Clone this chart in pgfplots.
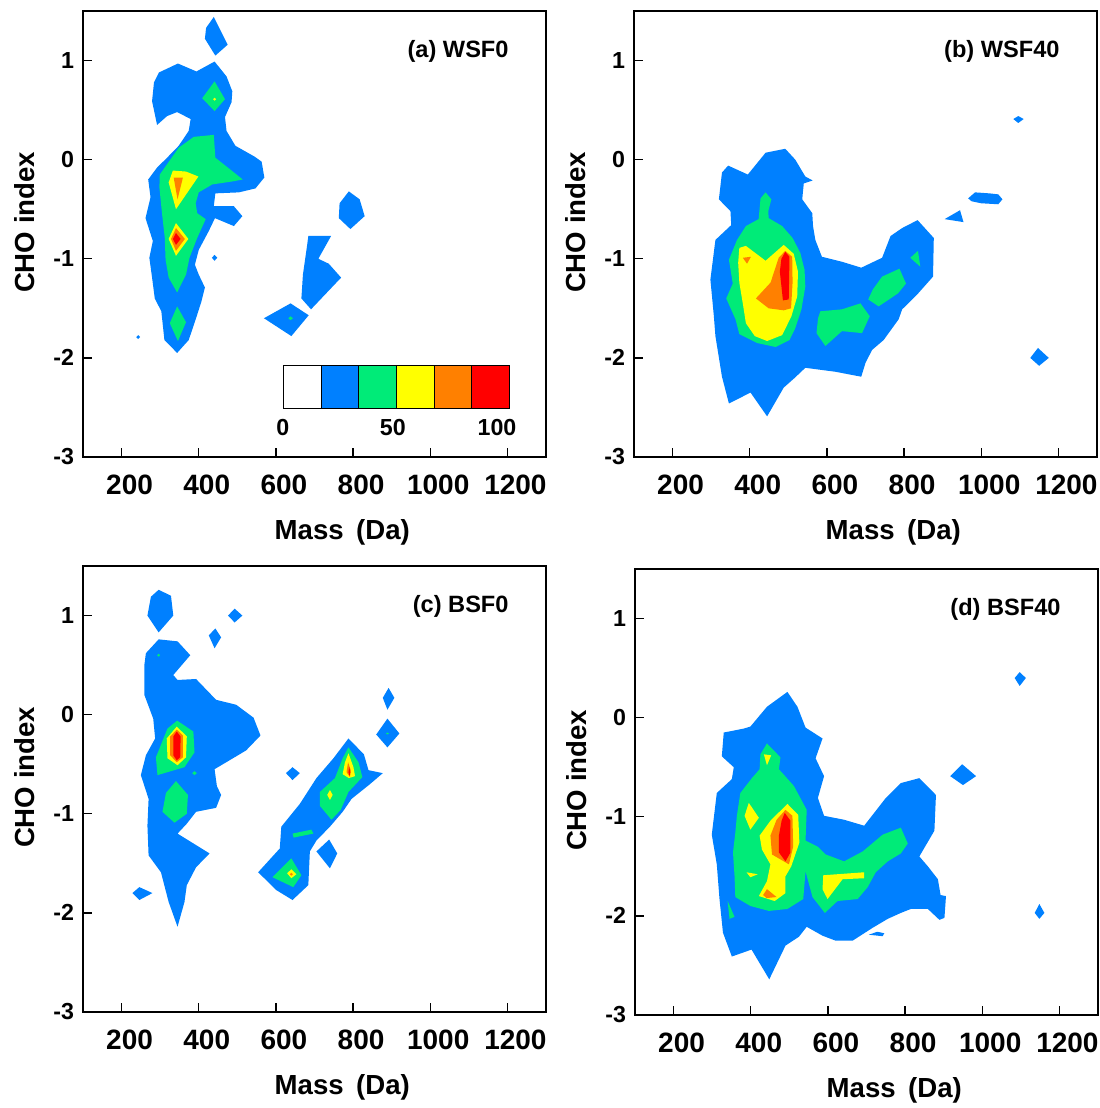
\documentclass[border=0pt]{standalone}
\usepackage{fontspec}
\setmainfont{Liberation Sans}
\usepackage{pgfplots}
\pgfplotsset{compat=1.18}
\definecolor{cBlue}{RGB}{0,128,255}
\definecolor{cGreen}{RGB}{0,235,120}
\definecolor{cYellow}{RGB}{255,255,0}
\definecolor{cOrange}{RGB}{255,128,0}
\definecolor{cRed}{RGB}{255,0,0}

\pgfplotsset{
  cho/.style={
    scale only axis, width=231.5pt, height=223pt,
    xmin=100, xmax=1300, ymin=-3, ymax=1.5,
    xtick={200,400,600,800,1000,1200},
    xticklabels={200,400,600,800,1000,1200},
    ytick={-3,-2,-1,0,1},
    yticklabels={-3,-2,-1,0,1},
    tick align=inside, xtick pos=bottom, ytick pos=left,
    major tick length=4.5pt,
    axis line style={line width=0.7pt},
    every tick/.style={black, line width=0.7pt},
    x tick label style={font=\fontsize{14}{16}\selectfont\bfseries, yshift=-5.5pt, xshift=4pt},
    y tick label style={font=\fontsize{11.6}{13}\selectfont\bfseries, xshift=-1pt},
    xlabel={Mass\hspace{0.45em}(Da)}, ylabel={CHO index},
    label style={font=\fontsize{13.8}{16}\selectfont\bfseries},
    xlabel style={at={(axis description cs:0.56,-0.168)}, anchor=center},
    ylabel style={at={(axis description cs:-0.126,0.526)}, anchor=center},
  },
  blu/.style={fill=cBlue, draw=none, forget plot},
  grn/.style={fill=cGreen, draw=none, forget plot},
  yel/.style={fill=cYellow, draw=none, forget plot},
  ora/.style={fill=cOrange, draw=none, forget plot},
  rd/.style={fill=cRed, draw=none, forget plot},
}
\newcommand{\paneltitle}[1]{\node[anchor=east, inner sep=0pt, font=\fontsize{11.8}{14}\selectfont\bfseries] at (rel axis cs:0.92,0.909) {#1};}

\begin{document}
\begin{tikzpicture}
\useasboundingbox (0,0) rectangle (549.5pt,-554pt);

% (a) WSF0
\begin{axis}[cho, at={(41.5pt,-5.5pt)}, anchor=north west]
\addplot[blu] coordinates {(439,1.44) (475,1.16) (443,1.05) (416,1.22) (419,1.33)} -- cycle;
\addplot[blu] coordinates {(297,0.88) (346,0.97) (394,0.89) (441,0.99) (472,0.84) (487,0.69) (485,0.58) (468,0.43) (472,0.29) (495,0.14) (545,0.03) (563,-0.02) (570,-0.18) (547,-0.29) (504,-0.33) (443,-0.34) (439,-0.47) (491,-0.47) (513,-0.57) (491,-0.67) (442,-0.59) (426,-0.72) (400,-0.91) (390,-1.06) (400,-1.16) (416,-1.29) (407,-1.43) (393,-1.60) (374,-1.82) (344,-1.95) (311,-1.82) (303,-1.53) (286,-1.40) (279,-1.19) (272,-0.99) (281,-0.82) (262,-0.59) (275,-0.38) (269,-0.20) (292,-0.08) (318,0.02) (348,0.14) (374,0.29) (379,0.41) (344,0.48) (318,0.44) (292,0.35) (279,0.59) (284,0.78)} -- cycle;
\addplot[blu] coordinates {(434,-0.99) (441,-0.96) (448,-0.99) (441,-1.02)} -- cycle;
\addplot[blu] coordinates {(238,-1.79) (243,-1.77) (248,-1.79) (243,-1.81)} -- cycle;
\addplot[blu] coordinates {(789,-0.32) (817,-0.40) (830,-0.57) (793,-0.70) (763,-0.59) (765,-0.44)} -- cycle;
\addplot[blu] coordinates {(684,-0.77) (743,-0.77) (710,-1.00) (737,-1.05) (769,-1.19) (691,-1.51) (666,-1.40) (670,-1.16) (681,-0.86)} -- cycle;
\addplot[blu] coordinates {(569,-1.60) (638,-1.45) (685,-1.57) (640,-1.78)} -- cycle;
\addplot[grn] coordinates {(441,0.79) (468,0.61) (441,0.49) (409,0.62)} -- cycle;
\addplot[grn] coordinates {(387,0.23) (439,0.25) (443,0.02) (482,-0.10) (514,-0.20) (487,-0.22) (435,-0.25) (400,-0.33) (392,-0.44) (396,-0.54) (418,-0.60) (396,-0.79) (376,-0.99) (367,-1.16) (344,-1.34) (322,-1.19) (314,-1.01) (312,-0.79) (305,-0.55) (298,-0.28) (299,-0.15) (348,0.12)} -- cycle;
\addplot[grn] coordinates {(344,-1.48) (367,-1.64) (346,-1.83) (325,-1.65)} -- cycle;
\addplot[grn] coordinates {(632,-1.60) (638,-1.58) (644,-1.60) (638,-1.62)} -- cycle;
\addplot[yel] coordinates {(333,-0.11) (367,-0.12) (399,-0.17) (341,-0.50) (322,-0.23)} -- cycle;
\addplot[yel] coordinates {(341,-0.64) (373,-0.80) (341,-0.97) (322,-0.80)} -- cycle;
\addplot[yel] coordinates {(437,0.61) (441,0.625) (445,0.61) (441,0.595)} -- cycle;
\addplot[ora] coordinates {(335,-0.18) (359,-0.18) (345,-0.40)} -- cycle;
\addplot[ora] coordinates {(341,-0.69) (364,-0.80) (341,-0.92) (328,-0.80)} -- cycle;
\addplot[rd] coordinates {(341,-0.74) (353,-0.80) (341,-0.86) (333,-0.80)} -- cycle;
\paneltitle{(a) WSF0}
% colour scale
\fill[white] (620,-2.08) rectangle (717.5,-2.51);
\fill[cBlue] (717.5,-2.08) rectangle (815,-2.51);
\fill[cGreen] (815,-2.08) rectangle (912.5,-2.51);
\fill[cYellow] (912.5,-2.08) rectangle (1010,-2.51);
\fill[cOrange] (1010,-2.08) rectangle (1107.5,-2.51);
\fill[cRed] (1107.5,-2.08) rectangle (1205,-2.51);
\draw[line width=0.6pt] (620,-2.08) rectangle (1205,-2.51);
\draw[line width=0.6pt] (717.5,-2.08) -- (717.5,-2.51);
\draw[line width=0.6pt] (815,-2.08) -- (815,-2.51);
\draw[line width=0.6pt] (912.5,-2.08) -- (912.5,-2.51);
\draw[line width=0.6pt] (1010,-2.08) -- (1010,-2.51);
\draw[line width=0.6pt] (1107.5,-2.08) -- (1107.5,-2.51);
\node[font=\fontsize{11.6}{13}\selectfont\bfseries] at (618,-2.70) {0};
\node[font=\fontsize{11.6}{13}\selectfont\bfseries] at (903,-2.70) {50};
\node[font=\fontsize{11.6}{13}\selectfont\bfseries] at (1173,-2.70) {100};
\end{axis}

% (b) WSF40
\begin{axis}[cho, at={(317pt,-5.5pt)}, anchor=north west]
\addplot[blu] coordinates {(344,-0.06) (395,-0.15) (441,0.07) (492,0.11) (518,0.00) (544,-0.17) (563,-0.21) (540,-0.24) (536,-0.40) (562,-0.54) (564,-0.67) (570,-0.81) (587,-0.98) (639,-1.03) (689,-1.09) (743,-0.99) (765,-0.77) (795,-0.69) (835,-0.61) (877,-0.79) (875,-1.18) (834,-1.36) (795,-1.51) (786,-1.61) (747,-1.82) (717,-1.92) (700,-2.05) (689,-2.19) (622,-2.14) (544,-2.10) (517,-2.20) (488,-2.30) (445,-2.59) (402,-2.35) (346,-2.46) (328,-2.19) (311,-1.78) (307,-1.58) (298,-1.21) (311,-0.81) (352,-0.66) (350,-0.52) (320,-0.40) (328,-0.13)} -- cycle;
\addplot[blu] coordinates {(1083,0.41) (1096,0.44) (1110,0.41) (1096,0.37)} -- cycle;
\addplot[blu] coordinates {(966,-0.39) (984,-0.33) (1021,-0.34) (1044,-0.35) (1055,-0.40) (1044,-0.45) (1000,-0.44) (975,-0.42)} -- cycle;
\addplot[blu] coordinates {(905,-0.60) (945,-0.51) (954,-0.63)} -- cycle;
\addplot[blu] coordinates {(1127,-2.00) (1147,-1.90) (1175,-2.00) (1150,-2.08)} -- cycle;
\addplot[grn] coordinates {(428,-0.39) (441,-0.33) (456,-0.40) (448,-0.52) (449,-0.59) (484,-0.67) (511,-0.79) (531,-0.94) (542,-1.11) (544,-1.28) (534,-1.51) (518,-1.70) (503,-1.82) (467,-1.89) (419,-1.85) (373,-1.76) (363,-1.61) (339,-1.40) (356,-1.25) (346,-1.01) (367,-0.81) (390,-0.67) (423,-0.60)} -- cycle;
\addplot[grn] coordinates {(583,-1.53) (639,-1.51) (687,-1.45) (711,-1.58) (691,-1.75) (639,-1.73) (596,-1.88) (573,-1.75) (577,-1.60)} -- cycle;
\addplot[grn] coordinates {(743,-1.18) (788,-1.10) (805,-1.25) (784,-1.35) (734,-1.48) (707,-1.41) (719,-1.31)} -- cycle;
\addplot[grn] coordinates {(816,-0.99) (836,-0.92) (842,-1.08)} -- cycle;
\addplot[yel] coordinates {(373,-0.89) (390,-0.87) (441,-1.02) (488,-0.86) (514,-0.95) (525,-1.13) (523,-1.38) (508,-1.58) (484,-1.77) (445,-1.83) (413,-1.78) (390,-1.65) (382,-1.45) (373,-1.24) (370,-1.04)} -- cycle;
\addplot[ora] coordinates {(382,-0.99) (403,-0.98) (393,-1.05)} -- cycle;
\addplot[ora] coordinates {(416,-1.40) (454,-1.24) (475,-0.99) (492,-0.92) (510,-0.98) (511,-1.24) (507,-1.50) (488,-1.52) (449,-1.50)} -- cycle;
\addplot[rd] coordinates {(492,-0.93) (503,-0.98) (501,-1.41) (486,-1.42) (478,-1.13) (482,-1.00)} -- cycle;
\paneltitle{(b) WSF40}
\end{axis}

% (c) BSF0
\begin{axis}[cho, at={(41.5pt,-283pt)}, anchor=north west]
\addplot[blu] coordinates {(296,1.26) (328,1.20) (334,1.00) (296,0.83) (267,1.00) (276,1.19)} -- cycle;
\addplot[blu] coordinates {(476,1.00) (493,1.07) (513,1.00) (493,0.93)} -- cycle;
\addplot[blu] coordinates {(426,0.80) (443,0.87) (458,0.78) (441,0.67)} -- cycle;
\addplot[blu] coordinates {(263,0.62) (296,0.76) (345,0.74) (378,0.60) (334,0.40) (345,0.35) (393,0.36) (445,0.15) (497,0.10) (542,-0.03) (560,-0.21) (523,-0.36) (480,-0.46) (441,-0.55) (447,-0.72) (458,-0.81) (445,-0.94) (393,-0.98) (369,-1.10) (345,-1.20) (428,-1.40) (393,-1.54) (369,-1.72) (363,-1.89) (345,-2.14) (322,-1.89) (302,-1.59) (270,-1.42) (267,-1.12) (270,-0.85) (250,-0.61) (263,-0.41) (287,-0.24) (282,-0.04) (259,0.20) (259,0.50)} -- cycle;
\addplot[blu] coordinates {(228,-1.80) (246,-1.74) (280,-1.80) (246,-1.87)} -- cycle;
\addplot[blu] coordinates {(626,-0.59) (643,-0.53) (662,-0.59) (643,-0.66)} -- cycle;
\addplot[blu] coordinates {(877,0.17) (892,0.27) (907,0.17) (889,0.05)} -- cycle;
\addplot[blu] coordinates {(860,-0.20) (889,-0.04) (920,-0.19) (889,-0.33)} -- cycle;
\addplot[blu] coordinates {(705,-1.38) (738,-1.26) (759,-1.40) (740,-1.55)} -- cycle;
\addplot[blu] coordinates {(788,-0.24) (828,-0.40) (840,-0.56) (877,-0.59) (844,-0.70) (796,-0.85) (773,-0.98) (740,-1.13) (705,-1.27) (688,-1.38) (684,-1.72) (643,-1.87) (601,-1.77) (554,-1.59) (610,-1.35) (614,-1.13) (662,-0.90) (705,-0.64) (749,-0.44)} -- cycle;
\addplot[grn] coordinates {(344,-0.06) (386,-0.17) (389,-0.38) (363,-0.53) (293,-0.61) (289,-0.43) (319,-0.14)} -- cycle;
\addplot[grn] coordinates {(383,-0.59) (389,-0.57) (395,-0.59) (389,-0.61)} -- cycle;
\addplot[grn] coordinates {(341,-0.67) (372,-0.81) (369,-1.00) (337,-1.09) (306,-0.98) (315,-0.79)} -- cycle;
\addplot[grn] coordinates {(788,-0.33) (814,-0.48) (824,-0.63) (788,-0.78) (768,-0.96) (744,-1.06) (714,-0.92) (714,-0.78) (753,-0.64) (773,-0.44)} -- cycle;
\addplot[grn] coordinates {(643,-1.20) (692,-1.16) (697,-1.20) (646,-1.24)} -- cycle;
\addplot[grn] coordinates {(591,-1.64) (640,-1.45) (666,-1.62) (645,-1.74)} -- cycle;
\addplot[grn] coordinates {(292,0.60) (296,0.615) (300,0.60) (296,0.585)} -- cycle;
\addplot[grn] coordinates {(885,-0.19) (889,-0.18) (893,-0.19) (889,-0.20)} -- cycle;
\addplot[yel] coordinates {(343,-0.12) (369,-0.22) (367,-0.43) (345,-0.51) (319,-0.44) (317,-0.24)} -- cycle;
\addplot[yel] coordinates {(788,-0.39) (801,-0.53) (805,-0.62) (789,-0.64) (773,-0.60) (779,-0.48)} -- cycle;
\addplot[yel] coordinates {(733,-0.81) (740,-0.76) (747,-0.81) (740,-0.86)} -- cycle;
\addplot[yel] coordinates {(629,-1.60) (640,-1.56) (653,-1.61) (640,-1.65)} -- cycle;
\addplot[ora] coordinates {(343,-0.15) (359,-0.21) (359,-0.43) (343,-0.48) (326,-0.41) (326,-0.22)} -- cycle;
\addplot[ora] coordinates {(787,-0.48) (794,-0.56) (792,-0.63) (783,-0.58)} -- cycle;
\addplot[ora] coordinates {(636,-1.61) (640,-1.595) (644,-1.61) (640,-1.625)} -- cycle;
\addplot[rd] coordinates {(343,-0.17) (353,-0.22) (352,-0.43) (343,-0.46) (334,-0.41) (334,-0.22)} -- cycle;
\addplot[rd] coordinates {(790,-0.53) (793,-0.58) (791,-0.62) (788,-0.58)} -- cycle;
\paneltitle{(c) BSF0}
\end{axis}

% (d) BSF40
\begin{axis}[cho, at={(317.5pt,-284.5pt)}, anchor=north west]
\addplot[blu] coordinates {(330,-0.15) (382,-0.11) (399,-0.09) (442,0.11) (495,0.26) (521,0.11) (542,-0.10) (586,-0.21) (568,-0.41) (590,-0.59) (574,-0.81) (590,-0.99) (642,-1.03) (694,-1.09) (750,-0.81) (789,-0.66) (837,-0.61) (880,-0.78) (876,-1.14) (837,-1.40) (859,-1.50) (885,-1.63) (892,-1.79) (906,-1.80) (902,-2.02) (889,-2.04) (859,-1.93) (815,-1.93) (789,-1.97) (755,-2.03) (716,-2.12) (664,-2.25) (620,-2.25) (586,-2.20) (545,-2.11) (525,-2.21) (490,-2.30) (448,-2.64) (402,-2.34) (351,-2.41) (328,-2.17) (319,-1.83) (312,-1.48) (299,-1.18) (312,-0.76) (351,-0.62) (356,-0.50) (325,-0.39)} -- cycle;
\addplot[blu] coordinates {(706,-2.19) (728,-2.16) (746,-2.175) (742,-2.205)} -- cycle;
\addplot[blu] coordinates {(1084,0.40) (1097,0.46) (1113,0.40) (1097,0.32)} -- cycle;
\addplot[blu] coordinates {(917,-0.59) (948,-0.47) (984,-0.59) (950,-0.68)} -- cycle;
\addplot[blu] coordinates {(1136,-1.97) (1148,-1.88) (1161,-1.97) (1148,-2.03)} -- cycle;
\addplot[grn] coordinates {(442,-0.26) (477,-0.40) (473,-0.52) (512,-0.69) (545,-0.93) (542,-1.24) (573,-1.30) (594,-1.38) (642,-1.45) (690,-1.35) (742,-1.18) (789,-1.11) (807,-1.27) (789,-1.37) (755,-1.45) (724,-1.56) (703,-1.71) (677,-1.83) (625,-1.85) (592,-1.97) (560,-1.81) (542,-1.55) (536,-1.83) (495,-1.93) (447,-1.95) (399,-1.90) (360,-1.81) (358,-1.60) (354,-1.36) (360,-1.16) (364,-0.99) (373,-0.76) (403,-0.61) (423,-0.52) (425,-0.37)} -- cycle;
\addplot[grn] coordinates {(340,-1.85) (358,-2.01) (345,-2.03)} -- cycle;
\addplot[yel] coordinates {(434,-0.37) (453,-0.38) (442,-0.48)} -- cycle;
\addplot[yel] coordinates {(395,-0.86) (421,-1.01) (399,-1.13) (384,-0.99)} -- cycle;
\addplot[yel] coordinates {(495,-0.87) (523,-0.98) (526,-1.26) (505,-1.50) (490,-1.60) (490,-1.77) (462,-1.85) (421,-1.80) (442,-1.65) (451,-1.48) (429,-1.33) (423,-1.19) (451,-1.04)} -- cycle;
\addplot[yel] coordinates {(389,-1.56) (418,-1.58) (399,-1.61)} -- cycle;
\addplot[yel] coordinates {(588,-1.59) (694,-1.56) (694,-1.62) (638,-1.63) (599,-1.83) (586,-1.73)} -- cycle;
\addplot[ora] coordinates {(490,-0.93) (508,-0.99) (510,-1.30) (499,-1.48) (455,-1.38) (451,-1.19) (467,-1.03)} -- cycle;
\addplot[ora] coordinates {(432,-1.79) (442,-1.73) (467,-1.81) (441,-1.82)} -- cycle;
\addplot[rd] coordinates {(488,-0.96) (503,-1.04) (503,-1.36) (490,-1.45) (473,-1.36) (473,-1.19) (480,-1.04)} -- cycle;
\paneltitle{(d) BSF40}
\end{axis}
\end{tikzpicture}
\end{document}
